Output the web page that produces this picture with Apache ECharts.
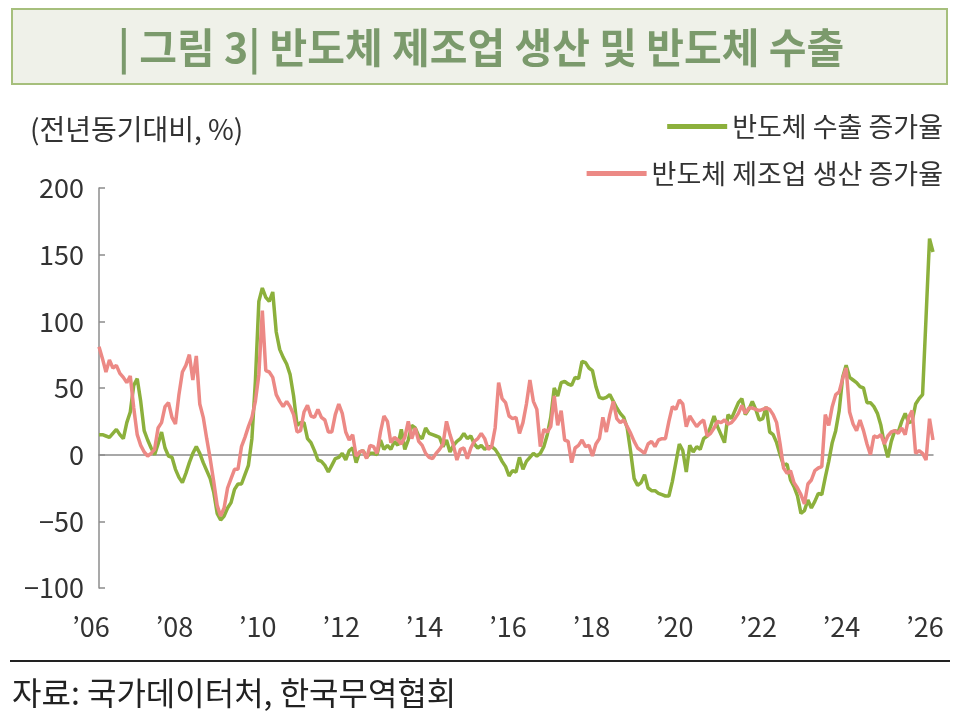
<!DOCTYPE html>
<html><head><meta charset="utf-8">
<script src="https://cdn.jsdelivr.net/npm/echarts@6/dist/echarts.min.js"></script>
<style>html,body{margin:0;padding:0;background:#fff}#c{width:961px;height:728px}</style>
</head><body><div id="c"></div>
<script>
// Monthly categories Jan 2006 .. Jan 2026
const months = [];
for (let y = 2006; y <= 2026; y++) for (let m = 1; m <= 12; m++) { if (y === 2026 && m > 1) break; months.push(y + '-' + String(m).padStart(2, '0')); }

const yTicks = [-100, -50, 0, 50, 100, 150, 200];
const seriesNames = ['반도체 수출 증가율', '반도체 제조업 생산 증가율'];

// 반도체 수출 증가율 (YoY, %)
const exportGrowth = [
 15,15,14,13,16,19,15,12,24,32,52,57, 40,18,11,5,0,8,17,5,-1,-2,-11,-17,
 -21,-14,-6,1,6,1,-6,-12,-18,-28,-44,-49, -46,-40,-36,-26,-22,-22,-15,-8,12,55,115,125,
 118,115,122,92,79,73,68,60,44,22,24,24, 12,9,3,-4,-5,-8,-13,-8,-3,-2,1,-4,
 3,5,-6,2,3,-2,1,1,0,11,4,7, 4,10,7,19,4,11,22,20,14,12,20,16,
 15,14,13,6,11,2,7,10,12,16,12,14, 8,5,7,4,6,6,4,0,-5,-9,-16,-12,
 -13,-2,-11,-5,-2,1,-1,1,6,15,28,50, 44,54,55,53,52,58,57,70,69,65,63,51,
 43,42,43,45,40,35,31,28,20,2,-18,-23, -21,-15,-25,-27,-27,-29,-30,-31,-31,-20,-6,8,
 3,-13,7,2,6,4,12,14,21,29,21,15, 9,30,27,33,39,42,30,34,40,34,26,27,
 36,17,15,9,0,-8,-7,-19,-24,-31,-44,-42, -34,-40,-35,-29,-30,-17,-5,9,18,33,58,67,
 58,56,54,51,50,39,39,36,31,22,8,-2, 10,18,17,25,31,24,25,38,42,45,103,162,
 152
];
// 반도체 제조업 생산 증가율 (YoY, %)
const productionGrowth = [
 81,72,62,71,65,67,61,58,54,59,35,15, 7,2,-1,1,4,20,24,36,39,28,23,45,
 62,67,75,56,74,38,28,12,-3,-20,-38,-46, -40,-25,-18,-11,-11,6,13,21,28,40,60,108,
 63,62,58,45,40,36,40,36,30,17,18,32, 37,29,28,34,28,26,17,17,30,38,31,17,
 11,15,-1,2,3,-3,7,6,1,17,29,25, 9,13,11,8,13,25,12,20,10,7,1,-2,
 -3,1,4,8,25,15,7,-4,4,5,-3,5, 10,12,16,12,4,6,20,54,42,39,29,27,
 28,16,24,38,56,40,34,6,19,17,21,44, 22,33,11,10,-6,5,7,11,6,7,-1,8,
 12,28,17,30,40,27,24,26,21,16,10,5, 3,1,8,10,6,11,12,12,25,36,34,41,
 38,21,29,25,21,24,26,14,16,20,25,24, 26,23,24,27,31,37,31,35,35,34,33,34,
 35,34,30,24,8,-10,-14,-12,-21,-25,-30,-37, -22,-19,-12,-10,-9,30,22,36,45,47,57,65,
 32,23,18,26,18,8,0,14,13,15,8,14, 17,18,16,20,15,28,33,1,3,1,-4,27,
 11
];

const chart = echarts.init(document.getElementById('c'), null, { renderer: 'canvas' });
const FONT = '"Noto Sans CJK KR", "Noto Sans", sans-serif';
const GREEN = '#8cb03c', PINK = '#ec8985';

chart.setOption({
  backgroundColor: '#ffffff',
  animation: false,
  textStyle: { fontFamily: FONT },
  graphic: [
    { type: 'rect', shape: { x: 12, y: 9, width: 935, height: 75 }, style: { fill: '#eff1e9', stroke: '#a6bf7c', lineWidth: 2 } },
    { type: 'text', x: 481, y: 47, style: { text: '| 그림 3| 반도체 제조업 생산 및 반도체 수출', fill: '#7b9a6c', font: 'bold 41px ' + FONT, textAlign: 'center', textVerticalAlign: 'middle' } },
    { type: 'text', x: 30, y: 129, style: { text: '(전년동기대비, %)', fill: '#333333', font: '28px ' + FONT, textAlign: 'left', textVerticalAlign: 'middle' } },
    { type: 'line', shape: { x1: 10, y1: 661, x2: 950, y2: 661 }, style: { stroke: '#222222', lineWidth: 2 } },
    { type: 'text', x: 12, y: 693, style: { text: '자료: 국가데이터처, 한국무역협회', fill: '#222222', font: '32px ' + FONT, textAlign: 'left', textVerticalAlign: 'middle' } }
  ],
  legend: [
    { data: [seriesNames[0]], right: 13, top: 108, icon: 'rect', itemWidth: 60, itemHeight: 5, itemGap: 12,
      textStyle: { fontSize: 27, color: '#333333', fontFamily: FONT } },
    { data: [seriesNames[1]], right: 13, top: 155, icon: 'rect', itemWidth: 60, itemHeight: 5, itemGap: 12,
      textStyle: { fontSize: 27, color: '#333333', fontFamily: FONT } }
  ],
  grid: { left: 99, right: 28, top: 188, bottom: 140, containLabel: false },
  xAxis: [
    { type: 'category', data: months, boundaryGap: false, position: 'bottom',
      axisLine: { show: true, onZero: true, lineStyle: { color: '#8c8c8c', width: 1.5 } },
      axisTick: { show: false }, axisLabel: { show: false }, splitLine: { show: false } },
    { type: 'category', data: months, boundaryGap: false, position: 'bottom',
      axisLine: { show: false, onZero: false }, axisTick: { show: false }, splitLine: { show: false },
      axisLabel: { show: true, interval: (i) => i % 24 === 0, margin: 25, fontSize: 27, color: '#333333', fontFamily: FONT,
        padding: [0, 16, 0, 0],
        formatter: (v) => '\u2019' + v.slice(2, 4) } }
  ],
  yAxis: {
    type: 'value', min: -100, max: 200, interval: 50,
    axisLine: { show: true, lineStyle: { color: '#8c8c8c', width: 1.5 } },
    axisTick: { show: true, inside: true, length: 6, lineStyle: { color: '#8c8c8c', width: 1.5 } },
    splitLine: { show: false },
    axisLabel: { margin: 15, fontSize: 27, color: '#333333', fontFamily: FONT,
      formatter: (v) => yTicks.includes(v) ? String(v).replace('-', '\u2212') : '' }
  },
  series: [
    { name: seriesNames[0], type: 'line', data: exportGrowth, xAxisIndex: 0, symbol: 'none', color: GREEN,
      lineStyle: { color: GREEN, width: 3.5 }, z: 3 },
    { name: seriesNames[1], type: 'line', data: productionGrowth, xAxisIndex: 0, symbol: 'none', color: PINK,
      lineStyle: { color: PINK, width: 3.5 }, z: 4 }
  ]
});
</script></body></html>
